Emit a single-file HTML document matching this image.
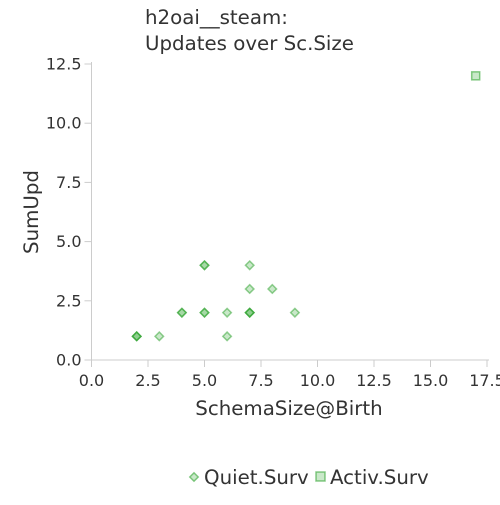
<!DOCTYPE html>
<html><head><meta charset="utf-8"><style>
body{margin:0;background:#fff;}
svg text{font-family:"DejaVu Sans","Liberation Sans",sans-serif;fill:#333;}
</style></head><body>
<svg id="chart" width="500" height="500">
<text x="145" y="24" font-size="19.8">h2oai__steam:</text>
<text x="145" y="50" font-size="19.8">Updates over Sc.Size</text>
<g id="axes"></g>
<g id="marks"></g>
<text x="289" y="415" font-size="19.8" text-anchor="middle">SchemaSize@Birth</text>
<text transform="translate(38,212) rotate(-90)" font-size="19.8" text-anchor="middle">SumUpd</text>
<g>
<rect x="191" y="474" width="6" height="6" transform="rotate(45 194 477)" fill="rgba(100,190,100,0.35)" stroke="rgba(40,160,40,0.55)" stroke-width="1.5"/>
<text x="204" y="484" font-size="19.8">Quiet.Surv</text>
<rect x="316" y="472" width="9" height="9" fill="rgba(100,190,100,0.35)" stroke="rgba(40,160,40,0.55)" stroke-width="1.5"/>
<text x="330" y="484" font-size="19.8">Activ.Surv</text>
</g>
</svg>
<script>
const quietX=[2,2,2,3,4,4,5,5,5,5,6,6,7,7,7,7,7,8,9];
const quietY=[1,1,1,1,2,2,2,2,4,4,2,1,4,3,2,2,2,3,2];
const activX=[17];
const activY=[12];
const xTicks=["0.0","2.5","5.0","7.5","10.0","12.5","15.0","17.5"];
const yTicks=["0.0","2.5","5.0","7.5","10.0","12.5"];
const X0=91.5,X1=487,Y0=360,Y1=64;
function sx(v){return X0+(v/17.5)*(X1-X0);}
function sy(v){return Y0-(v/12.5)*(Y0-Y1);}
const NS="http://www.w3.org/2000/svg";
function mk(t,a,p){const e=document.createElementNS(NS,t);for(const k in a)e.setAttribute(k,a[k]);p.appendChild(e);return e;}
const axes=document.getElementById('axes'),marks=document.getElementById('marks');
let l=mk('line',{x1:X0,y1:Y1-2,x2:X0,y2:Y0,stroke:'#ccc','stroke-width':1},axes);


l=mk('line',{x1:X0,y1:Y0,x2:X1+2,y2:Y0,stroke:'#ccc','stroke-width':1},axes);


xTicks.forEach(t=>{const x=sx(parseFloat(t));
 const tk=mk('line',{x1:x,y1:Y0,x2:x,y2:Y0+7,stroke:'#ccc'},axes);
 
 
 const tx=mk('text',{x:x,y:Y0+26,'font-size':16,'text-anchor':'middle'},axes);tx.textContent=t;
 
 
});
yTicks.forEach(t=>{const y=sy(parseFloat(t));
 const tk=mk('line',{x1:X0-7,y1:y,x2:X0,y2:y,stroke:'#ccc'},axes);
 
 
 const tx=mk('text',{x:X0-10,y:y+5.5,'font-size':16,'text-anchor':'end'},axes);tx.textContent=t;
 
 
});
quietX.forEach((v,i)=>{const x=sx(v),y=sy(quietY[i]);
 const p=mk('rect',{x:x-3,y:y-3,width:6,height:6,transform:`rotate(45 ${x} ${y})`,fill:'rgba(100,190,100,0.35)',stroke:'rgba(40,160,40,0.5)','stroke-width':1.5},marks);
 
 
});
activX.forEach((v,i)=>{const x=sx(v),y=sy(activY[i]);
 const p=mk('rect',{x:x-4,y:y-4,width:8,height:8,fill:'rgba(100,190,100,0.35)',stroke:'rgba(40,160,40,0.55)','stroke-width':1.5},marks);
 
 
});
</script>
</body></html>
